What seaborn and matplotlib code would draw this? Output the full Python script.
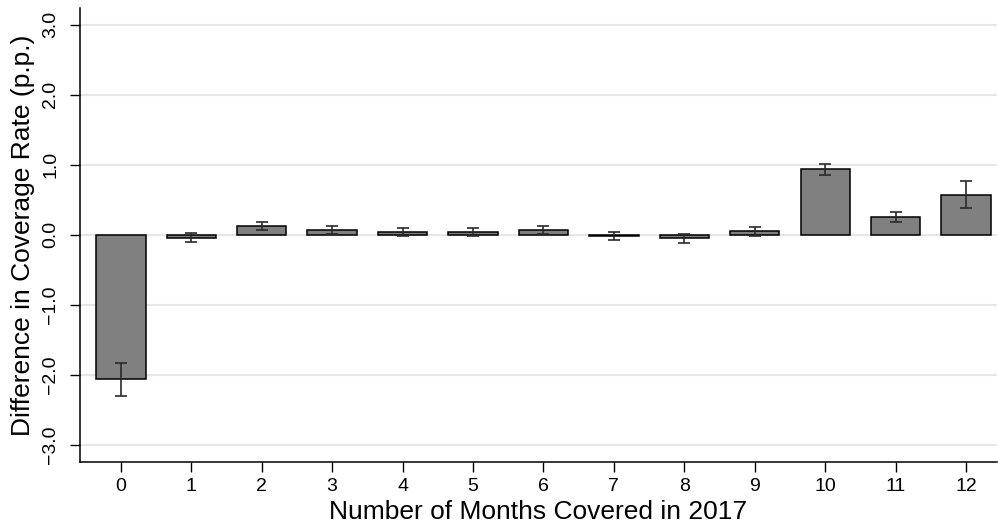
import matplotlib
matplotlib.use("Agg")
import matplotlib.pyplot as plt
import seaborn as sns
import pandas as pd
from matplotlib.ticker import FuncFormatter

months = ["0", "1", "2", "3", "4", "5", "6", "7", "8", "9", "10", "11", "12"]
diff = [-2.06, -0.04, 0.13, 0.07, 0.045, 0.045, 0.065, -0.015, -0.05, 0.05, 0.935, 0.26, 0.575]
err = [0.235, 0.06, 0.06, 0.06, 0.055, 0.055, 0.055, 0.055, 0.06, 0.06, 0.075, 0.07, 0.195]
yticks = [-3.0, -2.0, -1.0, 0.0, 1.0, 2.0, 3.0]

df = pd.DataFrame({"months": months, "diff": diff, "err": err})

sns.set_style("white")
plt.rcParams["font.family"] = ["Liberation Sans", "DejaVu Sans"]
plt.rcParams["axes.unicode_minus"] = True
plt.rcParams["text.color"] = "black"
plt.rcParams["axes.labelcolor"] = "black"
plt.rcParams["xtick.color"] = "black"
plt.rcParams["ytick.color"] = "black"

fig = plt.figure(figsize=(9.98, 5.28), dpi=100)
ax = fig.add_axes([80 / 998, 66.3 / 528, 917 / 998, 453.7 / 528])

sns.barplot(data=df, x="months", y="diff", order=months, color="#808080",
            saturation=1, edgecolor="black", linewidth=1.1, width=0.7,
            errorbar=None, ax=ax, zorder=3)
ax.errorbar(x=list(range(len(months))), y=df["diff"], yerr=df["err"], fmt="none",
            ecolor="#2a2a2a", elinewidth=1.2, capsize=4.5, capthick=1.2, zorder=4)

ax.set_ylim(-3.24, 3.24)
ax.set_xlim(-0.58, 12.44)
ax.set_yticks(yticks)
ax.yaxis.set_major_formatter(FuncFormatter(lambda v, p: f"{v:.1f}".replace("-", "\u2212")))
ax.grid(axis="y", color="#e6e6e6", linewidth=1.5, zorder=0)
ax.set_axisbelow(True)

for s in ["top", "right"]:
    ax.spines[s].set_visible(False)
for s in ["left", "bottom"]:
    ax.spines[s].set_color("black")
    ax.spines[s].set_linewidth(1.1)

ax.tick_params(axis="both", which="major", length=7, width=1.0, color="black",
               labelsize=14, direction="out", left=True, bottom=True,
               labelcolor="black")
ax.tick_params(axis="y", pad=8)
ax.tick_params(axis="x", pad=5)
plt.setp(ax.get_yticklabels(), rotation=90, va="center")

ax.set_xlabel("Number of Months Covered in 2017", fontsize=19, labelpad=3)
ax.set_ylabel("Difference in Coverage Rate (p.p.)", fontsize=19, labelpad=5)

fig.savefig("out.png", dpi=100)
